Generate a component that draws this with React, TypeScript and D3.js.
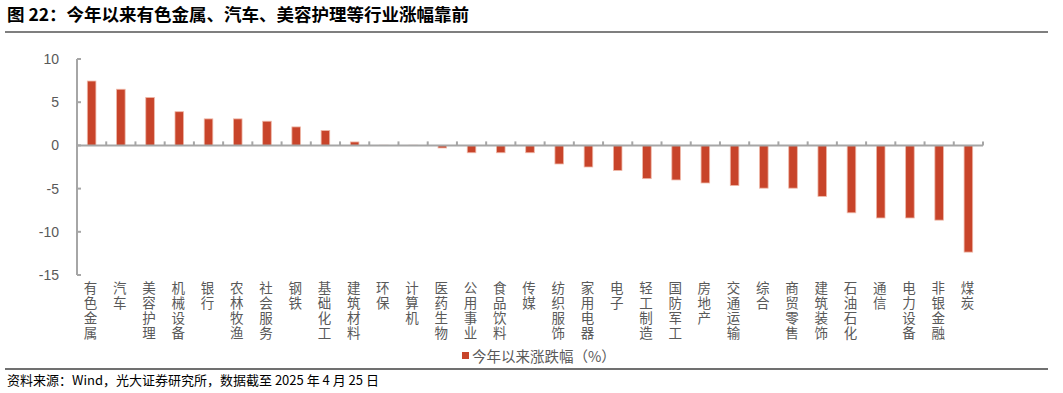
import React, { useRef, useEffect } from 'react';
import * as d3 from 'd3';

const categories = [
  '有色金属', '汽车', '美容护理', '机械设备', '银行', '农林牧渔', '社会服务', '钢铁',
  '基础化工', '建筑材料', '环保', '计算机', '医药生物', '公用事业', '食品饮料', '传媒',
  '纺织服饰', '家用电器', '电子', '轻工制造', '国防军工', '房地产', '交通运输', '综合',
  '商贸零售', '建筑装饰', '石油石化', '通信', '电力设备', '非银金融', '煤炭',
];
const values = [
  7.45, 6.5, 5.55, 3.9, 3.07, 3.07, 2.8, 2.14, 1.72, 0.4, 0.02, 0.02, -0.3, -0.85, -0.85,
  -0.85, -2.15, -2.5, -2.9, -3.85, -4.0, -4.35, -4.65, -4.95, -4.95, -5.9, -7.8, -8.4,
  -8.4, -8.65, -12.35,
];
const yTicks = [10, 5, 0, -5, -10, -15];
const seriesName = '今年以来涨跌幅（%）';
const title = '图 22：今年以来有色金属、汽车、美容护理等行业涨幅靠前';
const source = '资料来源：Wind，光大证券研究所，数据截至 2025 年 4 月 25 日';

const W = 1063;
const H = 393;
const CJK = '"Noto Sans CJK SC", "Noto Sans", sans-serif';
const NUM = '"Liberation Sans", Arial, sans-serif';
const BAR = '#C8442A';
const AXIS = '#A6A6A6';
const TEXT = '#595959';

const App = () => {
  const svgRef = useRef<SVGSVGElement>(null);

  useEffect(() => {
    const svg = d3.select(svgRef.current).html('');

    const x = d3.scaleBand<string>().domain(categories).range([77, 983]).paddingInner(0);
    const y = d3.scaleLinear().domain([-15, 10]).range([275, 59]);

    // title + rules
    svg.append('text')
      .attr('x', 7).attr('y', 21)
      .attr('font-family', CJK).attr('font-size', 17.5).attr('font-weight', 'bold')
      .attr('fill', '#000').text(title);
    svg.append('line')
      .attr('x1', 5).attr('x2', 1048).attr('y1', 32).attr('y2', 32)
      .attr('stroke', '#7F7F7F').attr('stroke-width', 2);
    svg.append('line')
      .attr('x1', 5).attr('x2', 1048).attr('y1', 369).attr('y2', 369)
      .attr('stroke', '#404040').attr('stroke-width', 1.5);
    svg.append('text')
      .attr('x', 7).attr('y', 385)
      .attr('font-family', CJK).attr('font-size', 13)
      .attr('fill', '#000').text(source);

    // bars
    const bw = 8.6;
    svg.selectAll('.bar')
      .data(values)
      .enter()
      .append('rect')
      .attr('class', 'bar')
      .attr('x', (d, i) => x(categories[i])! + x.bandwidth() / 2 - bw / 2)
      .attr('y', d => y(Math.max(0, d)))
      .attr('width', bw)
      .attr('height', d => Math.abs(y(d) - y(0)))
      .attr('fill', BAR)
      .attr('stroke', '#EFB8A8')
      .attr('stroke-width', 0.8);

    // y axis
    const yAxis = svg.append('g');
    yAxis.append('line')
      .attr('x1', 77).attr('x2', 77).attr('y1', y(10)).attr('y2', y(-15))
      .attr('stroke', AXIS).attr('stroke-width', 2);
    yTicks.forEach(t => {
      yAxis.append('line')
        .attr('x1', 77).attr('x2', 81).attr('y1', y(t)).attr('y2', y(t))
        .attr('stroke', AXIS).attr('stroke-width', 2);
      yAxis.append('text')
        .attr('x', 59).attr('y', y(t)).attr('dy', '0.36em')
        .attr('text-anchor', 'end')
        .attr('font-family', NUM).attr('font-size', 14)
        .attr('fill', TEXT).text(t);
    });

    // x axis at zero
    svg.append('line')
      .attr('x1', 77).attr('x2', 983).attr('y1', y(0)).attr('y2', y(0))
      .attr('stroke', AXIS).attr('stroke-width', 2);
    categories.forEach(c => {
      const xe = x(c)! + x.bandwidth();
      svg.append('line')
        .attr('x1', xe).attr('x2', xe).attr('y1', y(0)).attr('y2', y(0) - 4)
        .attr('stroke', AXIS).attr('stroke-width', 2);
    });

    // x labels, written top-to-bottom
    categories.forEach(c => {
      const cx = x(c)! + x.bandwidth() / 2 - 1;
      svg.append('text')
        .attr('x', cx).attr('y', 281)
        .attr('font-family', CJK).attr('font-size', 13.5)
        .attr('fill', TEXT)
        .style('writing-mode', 'vertical-rl')
        .style('letter-spacing', '1.5px')
        .text(c);
    });

    // legend
    svg.append('rect')
      .attr('x', 462).attr('y', 352).attr('width', 7).attr('height', 7)
      .attr('fill', BAR);
    svg.append('text')
      .attr('x', 472).attr('y', 361.5)
      .attr('font-family', CJK).attr('font-size', 14.5)
      .attr('fill', TEXT).text(seriesName);
  }, []);

  return (
    <svg ref={svgRef} width={W} height={H} style={{ position: 'absolute', left: 0, top: 0, background: '#fff' }} />
  );
};

export default App;
